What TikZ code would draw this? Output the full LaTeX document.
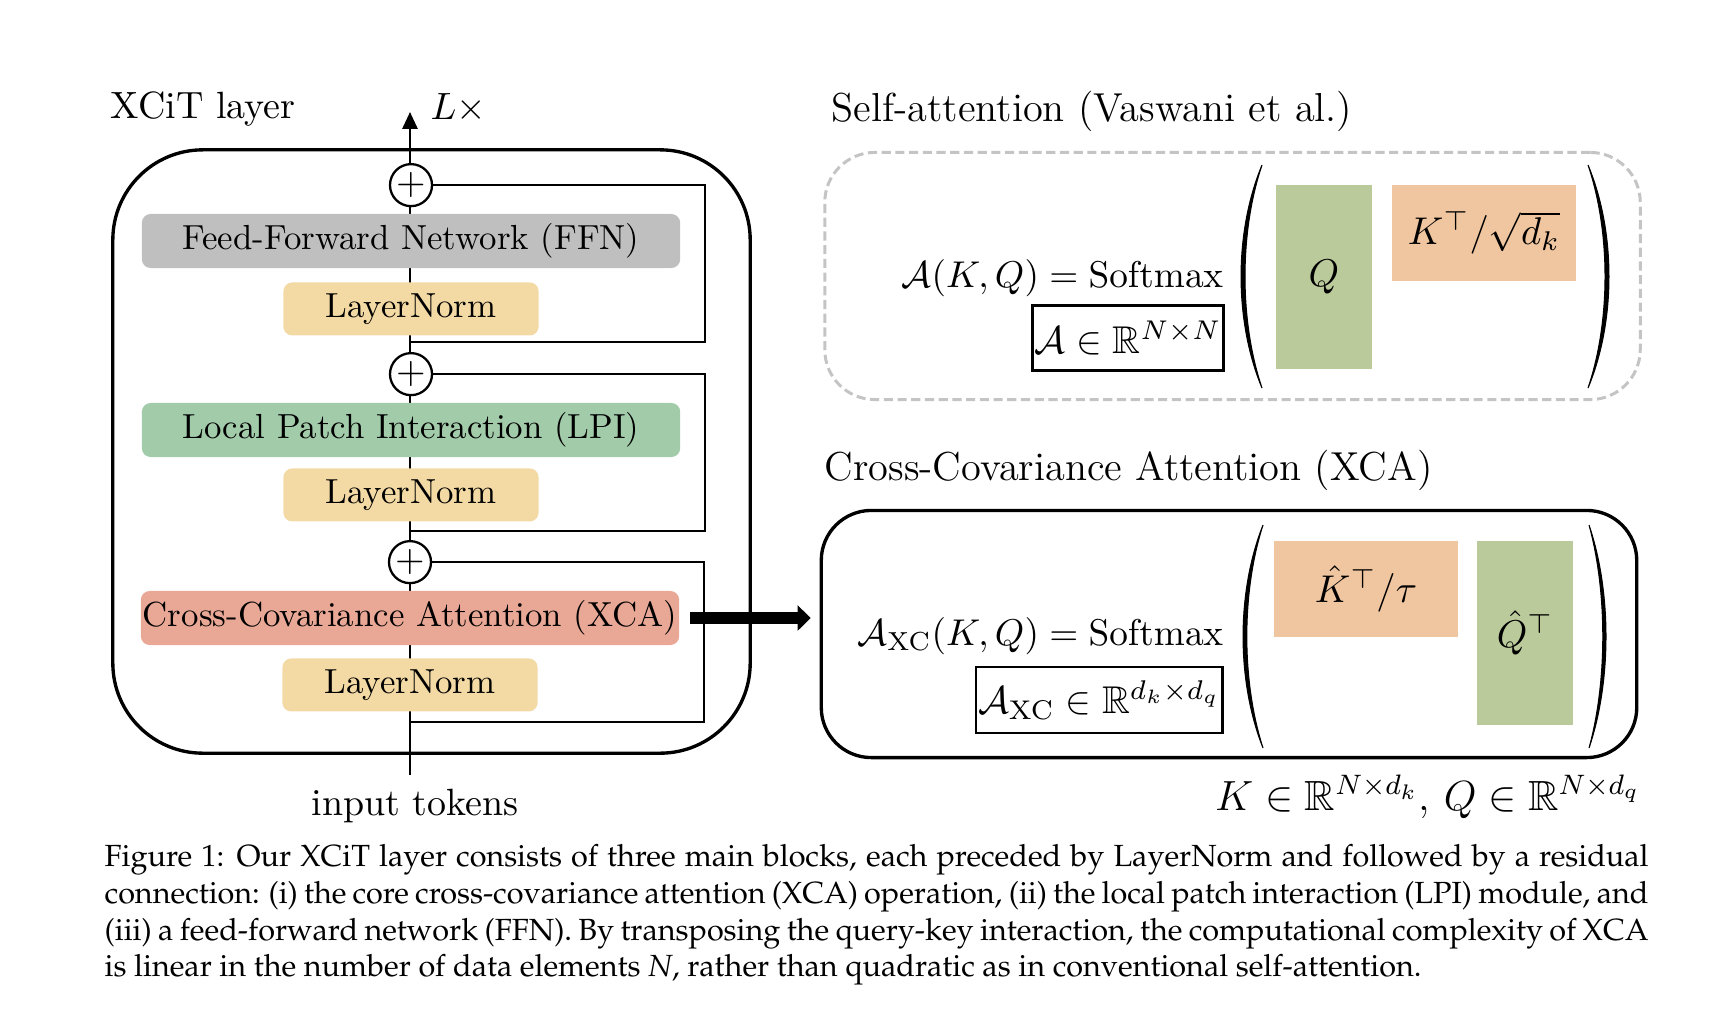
\RequirePackage{fix-cm}
\documentclass[tikz,border=0pt]{standalone}
\usepackage[T1,TU]{fontenc}
\usepackage{amsmath}
\usepackage{amssymb}
\usepackage{xcolor}
\usepackage{tikz}
\usetikzlibrary{arrows.meta,positioning,calc,backgrounds}
\definecolor{xcgray}{HTML}{BFBFBF}
\definecolor{xcnorm}{HTML}{F3DAA4}
\definecolor{xclpi}{HTML}{A2CBAA}
\definecolor{xcatt}{HTML}{E9A896}
\definecolor{xcqmat}{HTML}{BACA9A}
\definecolor{xckmat}{HTML}{EFC6A0}
\definecolor{xcdash}{HTML}{C4C4C4}

\begin{document}
\begin{tikzpicture}[
 x=0.01cm, y=-0.01cm, >=Latex, inner sep=0pt,
 font=\fontsize{10.8}{12.9}\selectfont,
 block/.style={rounded corners=2.5pt,minimum width=5.38cm,minimum height=0.54cm,font=\fontsize{9.9}{11.9}\selectfont},
 normbox/.style={block,fill=xcnorm,minimum width=2.55cm,minimum height=0.53cm},
 addop/.style={draw,circle,fill=white,line width=0.65pt,minimum size=0.42cm,font=\fontsize{10.8}{13}\selectfont},
 res/.style={line width=0.65pt},
 mat/.style={font=\fontsize{11}{13}\selectfont},
 headline/.style={anchor=base west,font=\fontsize{11.5}{13.8}\selectfont},
 formula/.style={anchor=base east,font=\fontsize{10.6}{12.7}\selectfont},
 shapebox/.style={draw,line width=0.8pt,font=\fontsize{11}{13}\selectfont},
 panel/.style={rounded corners=0.5cm,minimum width=8.15cm,minimum height=2.47cm}
]
\useasboundingbox (0,0) rectangle (1722,1024);

% XCiT layer
\node[anchor=base west] (layertitle) at (110,118) {XCiT layer};
\node[anchor=base west] (reps) at (430,119) {$L\times$};
\node[draw,line width=0.95pt,rounded corners=0.9cm,minimum width=6.37cm,minimum height=6.03cm] (layer) at (431.5,451.5) {};
\node[block,fill=xcgray] (ffn) at (411,241) {Feed-Forward Network (FFN)};
\node[normbox,below=0.13cm of ffn] (ln1) {LayerNorm};
\node[block,fill=xclpi] (lpi) at (411,430) {Local Patch Interaction (LPI)};
\node[normbox,below=0.10cm of lpi] (ln2) {LayerNorm};
\node[block,fill=xcatt] (xca) at (410,618) {Cross-Covariance Attention (XCA)};
\node[normbox,below=0.12cm of xca] (ln3) {LayerNorm};
\node[anchor=base] (intok) at (415,815) {input tokens};
\coordinate (in) at (410,775);
\coordinate (out) at (410,112);
\foreach \b/\n/\y in {ffn/1/342,lpi/2/531,xca/3/722} {
 \node[addop,above=0.06cm of \b] (add\n) {$+$};
 \coordinate (br\n) at (410,\y);
 \draw[res] (add\n.east) -- ++(272,0) |- (br\n);
}
\begin{scope}[on background layer]
 \draw[res,-{Triangle[length=4.8pt,width=4.3pt]}] (in) -- (out);
\end{scope}

% self-attention
\node[headline] (satitle) at (831,121) {Self-attention (Vaswani et al.)};
\node[panel,draw=xcdash,line width=0.85pt,dash pattern=on 2.6pt off 1.3pt] (sabox) at (1232.5,276) {};
\node[formula] (saeq) at (1224,287) {$\mathcal{A}(K,Q) = \mathrm{Softmax}$};
\node[shapebox,minimum width=1.91cm,minimum height=0.65cm] (sadim) at (1128,338) {$\mathcal{A} \in \mathbb{R}^{N\times N}$};
\node[mat,fill=xcqmat,minimum width=0.96cm,minimum height=1.84cm] (saq) at (1324,277) {$Q$};
\node[mat,fill=xckmat,minimum width=1.84cm,minimum height=0.96cm] (sak) at (1484,233) {$K^{\top}/\sqrt{d_k}$};

% cross-covariance attention
\node[headline] (xctitle) at (824,480) {Cross-Covariance Attention (XCA)};
\node[panel,draw,line width=0.95pt] (xcbox) at (1229,634) {};
\node[formula] (xceq) at (1224,645) {$\mathcal{A}_{\mathrm{XC}}(K,Q) = \mathrm{Softmax}$};
\node[shapebox,minimum width=2.46cm,minimum height=0.66cm] (xcdim) at (1099,700) {$\mathcal{A}_{\mathrm{XC}} \in \mathbb{R}^{d_k\times d_q}$};
\node[mat,fill=xckmat,minimum width=1.84cm,minimum height=0.96cm] (xck) at (1366,589) {$\hat{K}^{\top}/\tau$};
\node[mat,fill=xcqmat,minimum width=0.96cm,minimum height=1.84cm] (xcq) at (1525,633) {$\hat{Q}^{\top}$};
\node[formula,font=\fontsize{12}{14.4}\selectfont] (shapes) at (1641,810) {$K \in \mathbb{R}^{N\times d_k}$, $Q \in \mathbb{R}^{N\times d_q}$};

% big parentheses
\foreach \px/\dx/\ya/\yb in {1262/-21/165/388,1588/21/165/388,1263/-20/525/748,1589/17/525/748}
 \filldraw[line width=0.3pt] (\px,\ya) .. controls ({\px+1.33*\dx},{\ya+0.3*(\yb-\ya)}) and ({\px+1.33*\dx},{\yb-0.3*(\yb-\ya)}) .. (\px,\yb)
  .. controls ({\px+1.08*\dx},{\yb-0.3*(\yb-\ya)}) and ({\px+1.08*\dx},{\ya+0.3*(\yb-\ya)}) .. (\px,\ya);

\draw[line width=3.3pt,-{Triangle[length=3.7pt,width=7.1pt]}] ([xshift=0.1cm]xca.east) -- ([xshift=-0.09cm]xca.east -| xcbox.west);

% caption
\node[anchor=north west,align=left,font=\fontencoding{T1}\fontfamily{ppl}\fontsize{8.7}{10.44}\selectfont] (caption) at (104,844)
 {\makebox[15.43cm][s]{Figure 1: Our XCiT layer consists of three main blocks, each preceded by LayerNorm and followed by a residual}\\
  \makebox[15.43cm][s]{connection: (i) the core cross-covariance attention (XCA) operation, (ii) the local patch interaction (LPI) module, and}\\
  \makebox[15.43cm][s]{(iii) a feed-forward network (FFN). By transposing the query-key interaction, the computational complexity of XCA}\\
  is linear in the number of data elements \textit{N}, rather than quadratic as in conventional self-attention.};
\end{tikzpicture}
\end{document}
